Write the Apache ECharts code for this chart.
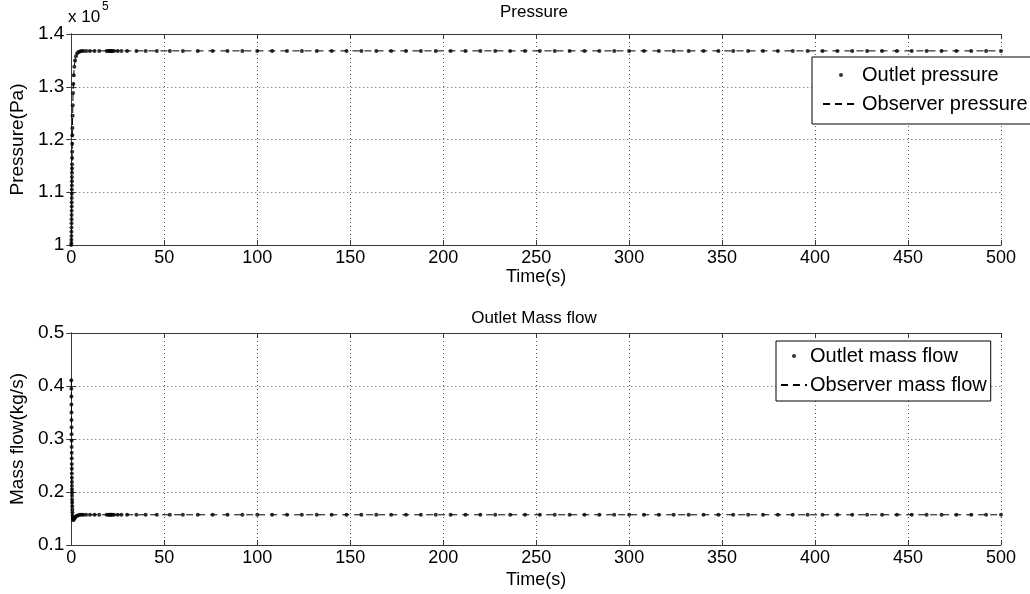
<!DOCTYPE html>
<html><head><meta charset="utf-8">
<script src="https://cdn.jsdelivr.net/npm/echarts@6/dist/echarts.min.js"></script>
<style>html,body{margin:0;padding:0;background:#fff}#c{width:1030px;height:594px}</style>
</head><body><div id="c"></div><script>
// Time (s)
const time = [0, 0.02, 0.04, 0.06, 0.08, 0.1, 0.12, 0.14, 0.16, 0.18,
  0.2, 0.22, 0.24, 0.26, 0.28, 0.3, 0.32, 0.34, 0.36, 0.38,
  0.4, 0.43, 0.46, 0.5, 0.55, 0.6, 0.7, 0.8, 0.95, 1.1,
  1.3, 1.6,
  2.0, 2.5, 3.1, 3.8, 4.6, 5.5, 6.5, 8, 10, 12.5, 15, 19,
  20, 20.5, 21, 21.5, 22, 23, 25, 27, 30, 35, 40, 46, 53, 60,
  68, 76, 84, 92, 100, 108, 116, 124, 132, 140,
  148, 156, 164, 172, 180, 188, 196, 204, 212, 220,
  228, 236, 244, 252, 260, 268, 276, 284, 292, 300,
  308, 316, 324, 332, 340, 348, 356, 364, 372, 380,
  388, 396, 404, 412, 420, 428, 436, 444, 452, 460,
  468, 476, 484, 492, 500];
// Outlet pressure (Pa)
const pressure = [100000, 100400, 101000, 101700, 102500, 103300, 104100, 104900, 105700, 106500,
  107300, 108100, 108900, 109700, 110500, 111300, 112100, 112900, 113700, 114500,
  115300, 116500, 117700, 119200, 120800, 122200, 124500, 126500, 128800, 130500,
  132200, 133800,
  135000, 135800, 136300, 136600, 136700, 136800, 136800, 136800, 136800, 136800, 136800, 136800,
  136800, 136800, 136800, 136800, 136800, 136800, 136800, 136800, 136800, 136800, 136800, 136800, 136800, 136800,
  136800, 136800, 136800, 136800, 136800, 136800, 136800, 136800, 136800, 136800,
  136800, 136800, 136800, 136800, 136800, 136800, 136800, 136800, 136800, 136800,
  136800, 136800, 136800, 136800, 136800, 136800, 136800, 136800, 136800, 136800,
  136800, 136800, 136800, 136800, 136800, 136800, 136800, 136800, 136800, 136800,
  136800, 136800, 136800, 136800, 136800, 136800, 136800, 136800, 136800, 136800,
  136800, 136800, 136800, 136800, 136800];
// Outlet mass flow (kg/s)
const massFlow = [0.411, 0.395, 0.380, 0.365, 0.350, 0.336, 0.322, 0.309, 0.297, 0.285,
  0.274, 0.263, 0.253, 0.244, 0.235, 0.227, 0.219, 0.212, 0.205, 0.199,
  0.193, 0.186, 0.180, 0.173, 0.167, 0.162, 0.155, 0.151, 0.148, 0.147,
  0.148, 0.150,
  0.152, 0.154, 0.155, 0.156, 0.157, 0.157, 0.157, 0.157, 0.157, 0.157, 0.157, 0.157,
  0.157, 0.157, 0.157, 0.157, 0.157, 0.157, 0.157, 0.157, 0.157, 0.157, 0.157, 0.157, 0.157, 0.157,
  0.157, 0.157, 0.157, 0.157, 0.157, 0.157, 0.157, 0.157, 0.157, 0.157,
  0.157, 0.157, 0.157, 0.157, 0.157, 0.157, 0.157, 0.157, 0.157, 0.157,
  0.157, 0.157, 0.157, 0.157, 0.157, 0.157, 0.157, 0.157, 0.157, 0.157,
  0.157, 0.157, 0.157, 0.157, 0.157, 0.157, 0.157, 0.157, 0.157, 0.157,
  0.157, 0.157, 0.157, 0.157, 0.157, 0.157, 0.157, 0.157, 0.157, 0.157,
  0.157, 0.157, 0.157, 0.157, 0.157];
const seriesNames = ['Outlet pressure', 'Observer pressure', 'Outlet mass flow', 'Observer mass flow'];
const titles = ['Pressure', 'Outlet Mass flow'];

const FONT = '"Liberation Sans", Arial, sans-serif';
const AX = '#3a3a3a';
const pressureData = time.map((t, i) => [t, pressure[i]]);
const massData = time.map((t, i) => [t, massFlow[i]]);

function xMain(grid, gap) {
  return {
    gridIndex: grid, type: 'value', min: 0, max: 500, interval: 50,
    axisLine: { show: true, lineStyle: { color: AX, width: 1 } },
    axisTick: { show: true, inside: true, length: 5, lineStyle: { color: AX } },
    axisLabel: { color: '#000', fontSize: 18, fontFamily: FONT, margin: 4 },
    splitLine: { show: true, lineStyle: { color: '#555', type: [1, 3], width: 1 } },
    name: 'Time(s)', nameLocation: 'middle', nameGap: gap,
    nameTextStyle: { color: '#000', fontSize: 18, fontFamily: FONT }
  };
}
function xTop(grid) {
  return {
    gridIndex: grid, type: 'value', position: 'top', min: 0, max: 500, interval: 50,
    axisLine: { show: true, lineStyle: { color: AX } },
    axisTick: { show: true, inside: true, length: 5, lineStyle: { color: AX } },
    axisLabel: { show: false }, splitLine: { show: false }
  };
}
function yMain(grid, min, max, interval, fmt, name) {
  return {
    gridIndex: grid, type: 'value', min: min, max: max, interval: interval,
    axisLine: { show: true, lineStyle: { color: AX } },
    axisTick: { show: true, inside: true, length: 5, lineStyle: { color: AX } },
    axisLabel: { color: '#000', fontSize: 19, fontFamily: FONT, margin: 7, formatter: fmt },
    splitLine: { show: true, lineStyle: { color: '#555', type: [1, 3], width: 1 } },
    name: name, nameLocation: 'middle', nameGap: 40,
    nameTextStyle: { color: '#000', fontSize: 19, fontFamily: FONT }
  };
}
function yRight(grid, min, max, interval) {
  return {
    gridIndex: grid, type: 'value', position: 'right', min: min, max: max, interval: interval,
    axisLine: { show: true, lineStyle: { color: AX } },
    axisTick: { show: true, inside: true, length: 5, lineStyle: { color: AX } },
    axisLabel: { show: false }, splitLine: { show: false }
  };
}
function legendAt(left, top, names, iconW, padding) {
  return {
    data: [{ name: names[0] }, { name: names[1], itemStyle: { opacity: 0 } }],
    left: left, top: top, orient: 'vertical',
    borderColor: '#000', borderWidth: 1, backgroundColor: '#fff', borderRadius: 0,
    padding: padding, itemGap: 9, itemWidth: iconW, itemHeight: 4,
    textStyle: { color: '#000', fontSize: 20, fontFamily: FONT, padding: [0, 0, 0, -2] },
    selectedMode: false
  };
}

const chart = echarts.init(document.getElementById('c'), null, { renderer: 'canvas' });
chart.setOption({
  animation: false,
  backgroundColor: '#fff',
  grid: [
    { left: 67, right: 29, top: 34, height: 211, show: false },
    { left: 67, right: 29, top: 333, height: 212, show: false }
  ],
  xAxis: [xMain(0, 19), xTop(0), xMain(1, 26), xTop(1)],
  yAxis: [
    yMain(0, 100000, 140000, 10000, v => String(parseFloat((v / 1e5).toFixed(1))), 'Pressure(Pa)'),
    yRight(0, 100000, 140000, 10000),
    yMain(1, 0.1, 0.5, 0.1, v => v.toFixed(1), 'Mass flow(kg/s)'),
    yRight(1, 0.1, 0.5, 0.1)
  ],
  legend: [
    legendAt(812, 57, [seriesNames[0], seriesNames[1]], 36, [8, 3, 10, 10]),
    legendAt(776, 341, [seriesNames[2], seriesNames[3]], 26, [5, 4, 6, 4])
  ],
  graphic: [
    { type: 'text', x: 534, y: 12, style: { text: titles[0], fill: '#000', font: '17px ' + FONT, textAlign: 'center', textVerticalAlign: 'middle' } },
    { type: 'text', x: 534, y: 318, style: { text: titles[1], fill: '#000', font: '17px ' + FONT, textAlign: 'center', textVerticalAlign: 'middle' } },
    { type: 'text', x: 68, y: 17, style: { text: 'x 10', fill: '#000', font: '17px ' + FONT, textAlign: 'left', textVerticalAlign: 'middle' } },
    { type: 'text', x: 102, y: 7, style: { text: '5', fill: '#000', font: '12px ' + FONT, textAlign: 'left', textVerticalAlign: 'middle' } }
  ],
  series: [
    { type: 'scatter', name: seriesNames[0], xAxisIndex: 0, yAxisIndex: 0, data: pressureData,
      symbol: 'circle', symbolSize: 4, itemStyle: { color: '#000' }, z: 4 },
    { type: 'line', name: seriesNames[1], xAxisIndex: 0, yAxisIndex: 0, data: pressureData,
      symbol: 'none', itemStyle: { color: '#000' }, lineStyle: { color: '#000', width: 1, type: [7, 5] }, z: 3 },
    { type: 'scatter', name: seriesNames[2], xAxisIndex: 2, yAxisIndex: 2, data: massData,
      symbol: 'circle', symbolSize: 4, itemStyle: { color: '#000' }, z: 4 },
    { type: 'line', name: seriesNames[3], xAxisIndex: 2, yAxisIndex: 2, data: massData,
      symbol: 'none', itemStyle: { color: '#000' }, lineStyle: { color: '#000', width: 1, type: [7, 5] }, z: 3 }
  ]
});
</script></body></html>
